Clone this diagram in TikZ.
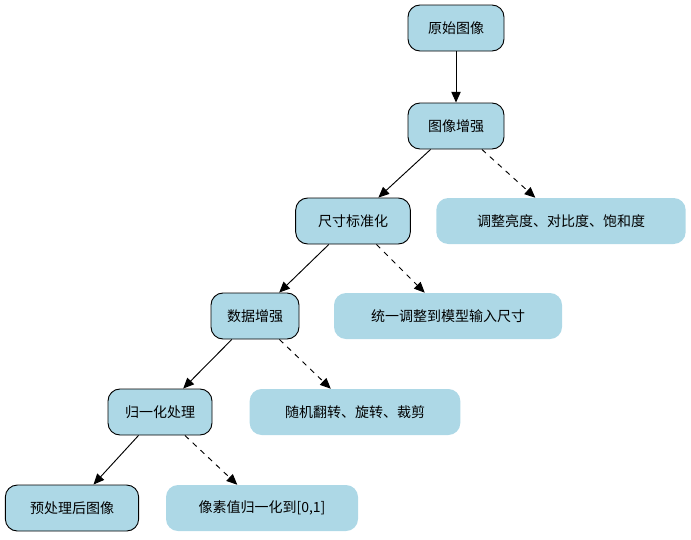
\documentclass[tikz,border=0pt]{standalone}
\usepackage{fontspec}
\setmainfont{Noto Sans CJK SC}
\usetikzlibrary{arrows.meta}
\definecolor{lb}{HTML}{ADD8E6}
\tikzset{
  box/.style={fill=lb,rounded corners=9pt,minimum height=34.5pt,font=\fontsize{10.5}{12}\selectfont,inner xsep=6pt,anchor=center},
  main/.style={box,draw=black,line width=0.7pt},
  edge/.style={-{Triangle[length=8pt,width=7pt]},line width=0.7pt},
  dedge/.style={edge,dash pattern=on 4pt off 4pt}
}
\begin{document}
\begin{tikzpicture}[x=0.75pt,y=-0.75pt]
\useasboundingbox (0,0) rectangle (691,539);
\node[main,minimum width=72pt] (a) at (456,28) {原始图像};
\node[main,minimum width=72pt] (b) at (456,126) {图像增强};
\node[main,minimum width=86pt] (c) at (353,221) {尺寸标准化};
\node[box,minimum width=187pt] (c2) at (561,221) {调整亮度、对比度、饱和度};
\node[main,minimum width=66pt] (d) at (255,316) {数据增强};
\node[box,minimum width=171pt] (d2) at (448,316) {统一调整到模型输入尺寸};
\node[main,minimum width=78pt] (e) at (160,412) {归一化处理};
\node[box,minimum width=158pt] (e2) at (355,412) {随机翻转、旋转、裁剪};
\node[main,minimum width=100pt] (f) at (72,508) {预处理后图像};
\node[box,minimum width=144pt] (f2) at (262,508) {像素值归一化到[0,1]};
\draw[edge] (a) -- (b);
\draw[edge] (b) -- (c);
\draw[dedge] (b) -- (c2);
\draw[edge] (c) -- (d);
\draw[dedge] (c) -- (d2);
\draw[edge] (d) -- (e);
\draw[dedge] (d) -- (e2);
\draw[edge] (e) -- (f);
\draw[dedge] (e) -- (f2);
\end{tikzpicture}
\end{document}
